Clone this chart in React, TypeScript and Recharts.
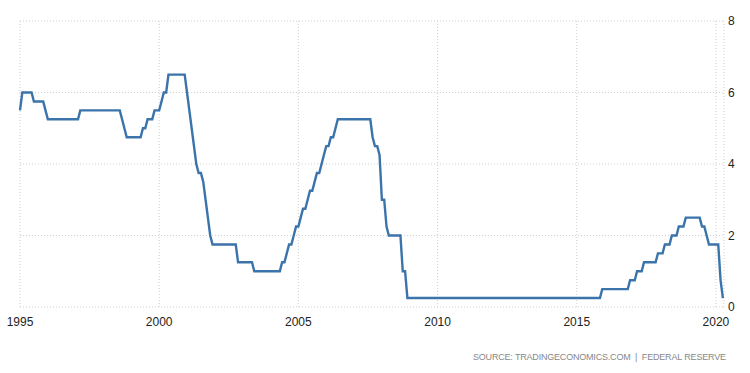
import { LineChart, Line, XAxis, YAxis, CartesianGrid } from 'recharts'

// Fed funds target rate, monthly values (Jan..Dec)
const START_YEAR = 1995
const RATES: number[][] = [
  [5.5, 6, 6, 6, 6, 6, 5.75, 5.75, 5.75, 5.75, 5.75, 5.5], // 1995
  [5.25, 5.25, 5.25, 5.25, 5.25, 5.25, 5.25, 5.25, 5.25, 5.25, 5.25, 5.25],
  [5.25, 5.25, 5.5, 5.5, 5.5, 5.5, 5.5, 5.5, 5.5, 5.5, 5.5, 5.5],
  [5.5, 5.5, 5.5, 5.5, 5.5, 5.5, 5.5, 5.5, 5.25, 5, 4.75, 4.75],
  [4.75, 4.75, 4.75, 4.75, 4.75, 5, 5, 5.25, 5.25, 5.25, 5.5, 5.5],
  [5.5, 5.75, 6, 6, 6.5, 6.5, 6.5, 6.5, 6.5, 6.5, 6.5, 6.5], // 2000
  [6, 5.5, 5, 4.5, 4, 3.75, 3.75, 3.5, 3, 2.5, 2, 1.75],
  [1.75, 1.75, 1.75, 1.75, 1.75, 1.75, 1.75, 1.75, 1.75, 1.75, 1.25, 1.25],
  [1.25, 1.25, 1.25, 1.25, 1.25, 1, 1, 1, 1, 1, 1, 1],
  [1, 1, 1, 1, 1, 1.25, 1.25, 1.5, 1.75, 1.75, 2, 2.25],
  [2.25, 2.5, 2.75, 2.75, 3, 3.25, 3.25, 3.5, 3.75, 3.75, 4, 4.25], // 2005
  [4.5, 4.5, 4.75, 4.75, 5, 5.25, 5.25, 5.25, 5.25, 5.25, 5.25, 5.25],
  [5.25, 5.25, 5.25, 5.25, 5.25, 5.25, 5.25, 5.25, 4.75, 4.5, 4.5, 4.25],
  [3, 3, 2.25, 2, 2, 2, 2, 2, 2, 1, 1, 0.25],
  [0.25, 0.25, 0.25, 0.25, 0.25, 0.25, 0.25, 0.25, 0.25, 0.25, 0.25, 0.25],
  [0.25, 0.25, 0.25, 0.25, 0.25, 0.25, 0.25, 0.25, 0.25, 0.25, 0.25, 0.25], // 2010
  [0.25, 0.25, 0.25, 0.25, 0.25, 0.25, 0.25, 0.25, 0.25, 0.25, 0.25, 0.25],
  [0.25, 0.25, 0.25, 0.25, 0.25, 0.25, 0.25, 0.25, 0.25, 0.25, 0.25, 0.25],
  [0.25, 0.25, 0.25, 0.25, 0.25, 0.25, 0.25, 0.25, 0.25, 0.25, 0.25, 0.25],
  [0.25, 0.25, 0.25, 0.25, 0.25, 0.25, 0.25, 0.25, 0.25, 0.25, 0.25, 0.25],
  [0.25, 0.25, 0.25, 0.25, 0.25, 0.25, 0.25, 0.25, 0.25, 0.25, 0.25, 0.5], // 2015
  [0.5, 0.5, 0.5, 0.5, 0.5, 0.5, 0.5, 0.5, 0.5, 0.5, 0.5, 0.75],
  [0.75, 0.75, 1, 1, 1, 1.25, 1.25, 1.25, 1.25, 1.25, 1.25, 1.5],
  [1.5, 1.5, 1.75, 1.75, 1.75, 2, 2, 2, 2.25, 2.25, 2.25, 2.5],
  [2.5, 2.5, 2.5, 2.5, 2.5, 2.5, 2.25, 2.25, 2, 1.75, 1.75, 1.75],
  [1.75, 1.75, 0.75, 0.25], // 2020
]

const X_TICKS = [1995, 2000, 2005, 2010, 2015, 2020]
const Y_TICKS = [0, 2, 4, 6, 8]
const SOURCE = 'SOURCE:\u00a0TRADINGECONOMICS.COM\u00a0\u00a0|\u00a0\u00a0FEDERAL\u00a0RESERVE'

const data = RATES.flatMap((months, i) =>
  months.map((rate, m) => ({ t: START_YEAR + i + m / 12, rate }))
)

const FONT = '"Liberation Sans", Arial, sans-serif'

export default function App() {
  return (
    <div style={{ position: 'absolute', left: 0, top: 0, width: 750, height: 373, background: '#fff' }}>
      <LineChart width={750} height={373} data={data} margin={{ top: 21, right: 0, bottom: 0, left: 20 }}>
        <CartesianGrid stroke="#cfcfcf" strokeDasharray="1 2" />
        <XAxis
          dataKey="t"
          type="number"
          domain={[1995, 2020.29]}
          ticks={X_TICKS}
          axisLine={false}
          tickLine={false}
          tickMargin={4}
          height={66}
          tick={{ fontSize: 12, fill: '#222', fontFamily: FONT }}
        />
        <YAxis
          orientation="right"
          domain={[0, 8]}
          ticks={Y_TICKS}
          width={26}
          axisLine={false}
          tickLine={false}
          tickSize={4}
          tickMargin={0}
          tick={{ fontSize: 12, fill: '#222', fontFamily: FONT }}
        />
        <Line
          type="linear"
          dataKey="rate"
          stroke="#3b73ab"
          strokeWidth={2.4}
          dot={false}
          isAnimationActive={false}
        />
      </LineChart>
      <svg width={750} height={373} style={{ position: 'absolute', left: 0, top: 0, pointerEvents: 'none' }}>
        <text
          x={473}
          y={359.5}
          textLength={253}
          lengthAdjust="spacing"
          fontFamily={FONT}
          fontSize={9}
          fill="#888"
        >
          {SOURCE}
        </text>
      </svg>
    </div>
  )
}
